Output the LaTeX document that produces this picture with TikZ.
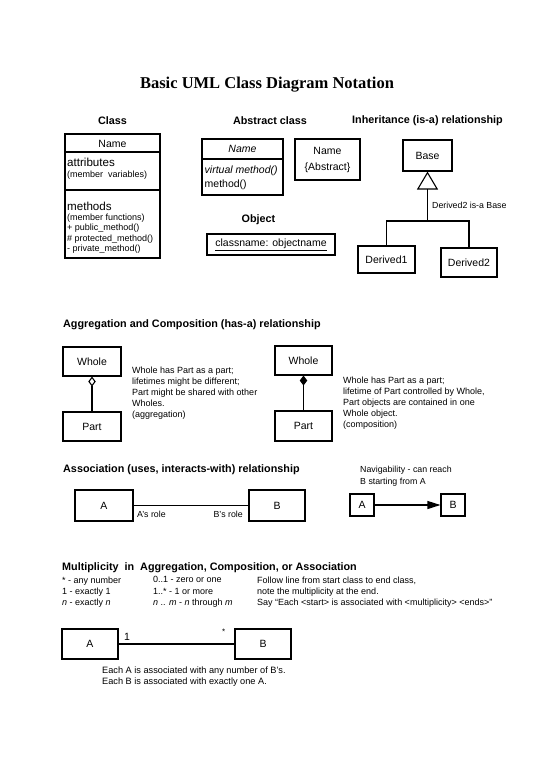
\documentclass[tikz,border=0pt]{standalone}
\usepackage{fontspec}
\setmainfont{Liberation Sans}
\newfontfamily\titlefont{Liberation Serif}
\usetikzlibrary{arrows.meta}
\newcommand{\pxsize}[2]{\fontsize{#1}{#2}\selectfont}
\tikzset{
  box/.style={draw, line width=1.1pt, inner sep=0pt, font=\pxsize{10.5}{12}},
  conn/.style={line width=1.1pt},
  hdr/.style={inner sep=0pt, font=\bfseries\pxsize{10.8}{12}},
  txt/.style={inner sep=0pt, anchor=west, font=\pxsize{8.8}{10}},
  para/.style={inner sep=0pt, anchor=north west, align=left, font=\pxsize{9}{11}},
}
\begin{document}
\begin{tikzpicture}[x=1pt,y=-1pt]
\useasboundingbox (0,0) rectangle (550,777);

% title
\node[inner sep=0pt, font=\titlefont\bfseries\pxsize{16.5}{18}] (title) at (267,85) {Basic UML Class Diagram Notation};

% headers
\node[hdr] (hclass) at (112.5,121) {Class};
\node[hdr] (habs) at (270,121) {Abstract class};
\node[hdr] (hinh) at (427.5,121) {Inheritance (is-a) relationship};
\node[hdr] (hobj) at (258.5,220) {Object};

% class box
\node[box, minimum width=95pt, minimum height=124pt] (cls) at (112.5,196) {};
\draw[conn] (cls.west |- 0,152) -- (cls.east |- 0,152);
\draw[conn] (cls.west |- 0,190) -- (cls.east |- 0,190);
\node[inner sep=0pt, font=\pxsize{10.5}{12}] (clsname) at (112.5,143.5) {Name};
\node[txt, font=\pxsize{11.6}{13}] (attr) at (67,162.5) {attributes};
\node[txt, font=\pxsize{9}{10}] (attrsub) at (67,175) {(member\ \ variables)};
\node[txt, font=\pxsize{11.6}{13}] (meth) at (67,206.5) {methods};
\node[txt, font=\pxsize{9}{10}] (methsub) at (67,218) {(member functions)};
\node[txt, font=\pxsize{9}{10}] (mpub) at (67,228.5) {+ public\_method()};
\node[txt, font=\pxsize{9}{10}] (mprot) at (67,239) {\# protected\_method()};
\node[txt, font=\pxsize{9}{10}] (mpriv) at (67,249.5) {- private\_method()};

% abstract class box
\node[box, minimum width=81pt, minimum height=56pt] (abs) at (242.5,167) {};
\draw[conn] (abs.west |- 0,159) -- (abs.east |- 0,159);
\node[inner sep=0pt, font=\itshape\pxsize{10.5}{12}] (absname) at (242.5,149) {Name};
\node[txt, font=\itshape\pxsize{10.5}{12}] (virt) at (204.5,171) {virtual method()};
\node[txt, font=\pxsize{10.5}{12}] (meth2) at (204.5,185) {method()};

\node[box, align=center, font=\pxsize{10.5}{16}, minimum width=65pt, minimum height=41pt] (absb) at (327.5,159.5) {Name\\\{Abstract\}};

% object
\node[box, minimum width=128pt, minimum height=21pt] (obj) at (271,244.5) {\underline{classname: objectname}};

% inheritance
\node[box, minimum width=49pt, minimum height=31pt] (base) at (427.5,155.5) {Base};
\node[box, minimum width=57pt, minimum height=27pt] (d1) at (386.5,259.5) {Derived1};
\node[box, minimum width=56pt, minimum height=29pt] (d2) at (469,262.5) {Derived2};
\coordinate (junc) at (427.5,221);
\draw[conn, -{Triangle[open, length=18pt, width=21pt]}] (junc) -- (base.south);
\draw[conn] (d1.north) |- (junc) -| (d2.north);
\node[txt] (isa) at (432,205) {Derived2 is-a Base};

% aggregation / composition
\node[hdr, anchor=west] (hagg) at (63,325) {Aggregation and Composition (has-a) relationship};
\node[box, minimum width=58pt, minimum height=29pt] (w1) at (92,361.5) {Whole};
\node[box, minimum width=58pt, minimum height=29pt] (p1) at (92,426.5) {Part};
\draw[conn, -{Diamond[open, length=10pt, width=7.5pt]}] (p1) -- (w1);
\node[para] (aggtxt) at (132,367) {Whole has Part as a part;\\lifetimes might be different;\\Part might be shared with other\\Wholes.\\(aggregation)};

\node[box, minimum width=57pt, minimum height=29pt] (w2) at (303.5,360.5) {Whole};
\node[box, minimum width=57pt, minimum height=30pt] (p2) at (303.5,426) {Part};
\draw[conn, -{Diamond[length=10pt, width=7.5pt]}] (p2) -- (w2);
\node[para] (comptxt) at (343,377) {Whole has Part as a part;\\lifetime of Part controlled by Whole,\\Part objects are contained in one\\Whole object.\\(composition)};

% association
\node[hdr, anchor=west] (hass) at (63,470) {Association (uses, interacts-with) relationship};
\node[box, minimum width=58pt, minimum height=31pt] (aA) at (104,505.5) {A};
\node[box, minimum width=56pt, minimum height=31pt] (aB) at (277,505.5) {B};
\draw[conn] (aA) -- (aB);
\node[txt] (arole) at (137,514.5) {A's role};
\node[txt, anchor=east] (brole) at (243,514.5) {B's role};

\node[para, font=\pxsize{8.8}{12}] (navtxt) at (360,466) {Navigability - can reach\\B starting from A};
\node[box, minimum width=24pt, minimum height=22pt] (nA) at (362,505) {A};
\node[box, minimum width=24pt, minimum height=22pt] (nB) at (453,505) {B};
\draw[conn, -{Triangle[length=13pt, width=8pt]}] (nA) -- (nB);

% multiplicity
\node[hdr, anchor=west] (hmul) at (62,568) {Multiplicity\ \ in\ \ Aggregation, Composition, or Association};
\node[para, font=\pxsize{9}{11.3}] (mc1) at (62,576.5) {* - any number\\1 - exactly 1\\\textit{n} - exactly \textit{n}};
\node[para, font=\pxsize{9}{11.3}] (mc2) at (153,576.5) {0..1 - zero or one\\1..* - 1 or more\\\textit{n} .. \textit{m} - \textit{n} through \textit{m}};
\node[para, font=\pxsize{9}{11.3}] (mc3) at (257,576.5) {Follow line from start class to end class,\\note the multiplicity at the end.\\Say “Each <start> is associated with <multiplicity> <ends>”};

\node[box, minimum width=56pt, minimum height=30pt] (mA) at (90,644) {A};
\node[box, minimum width=56pt, minimum height=30pt] (mB) at (263,644) {B};
\draw[conn] (mA) -- (mB);
\node[txt, font=\pxsize{10.5}{12}] (one) at (124,636.5) {1};
\node[txt, font=\pxsize{8}{10}] (star) at (222,632) {*};
\node[para, font=\pxsize{9.2}{10.5}] (mtxt) at (102,667) {Each A is associated with any number of B's.\\Each B is associated with exactly one A.};
\end{tikzpicture}
\end{document}
